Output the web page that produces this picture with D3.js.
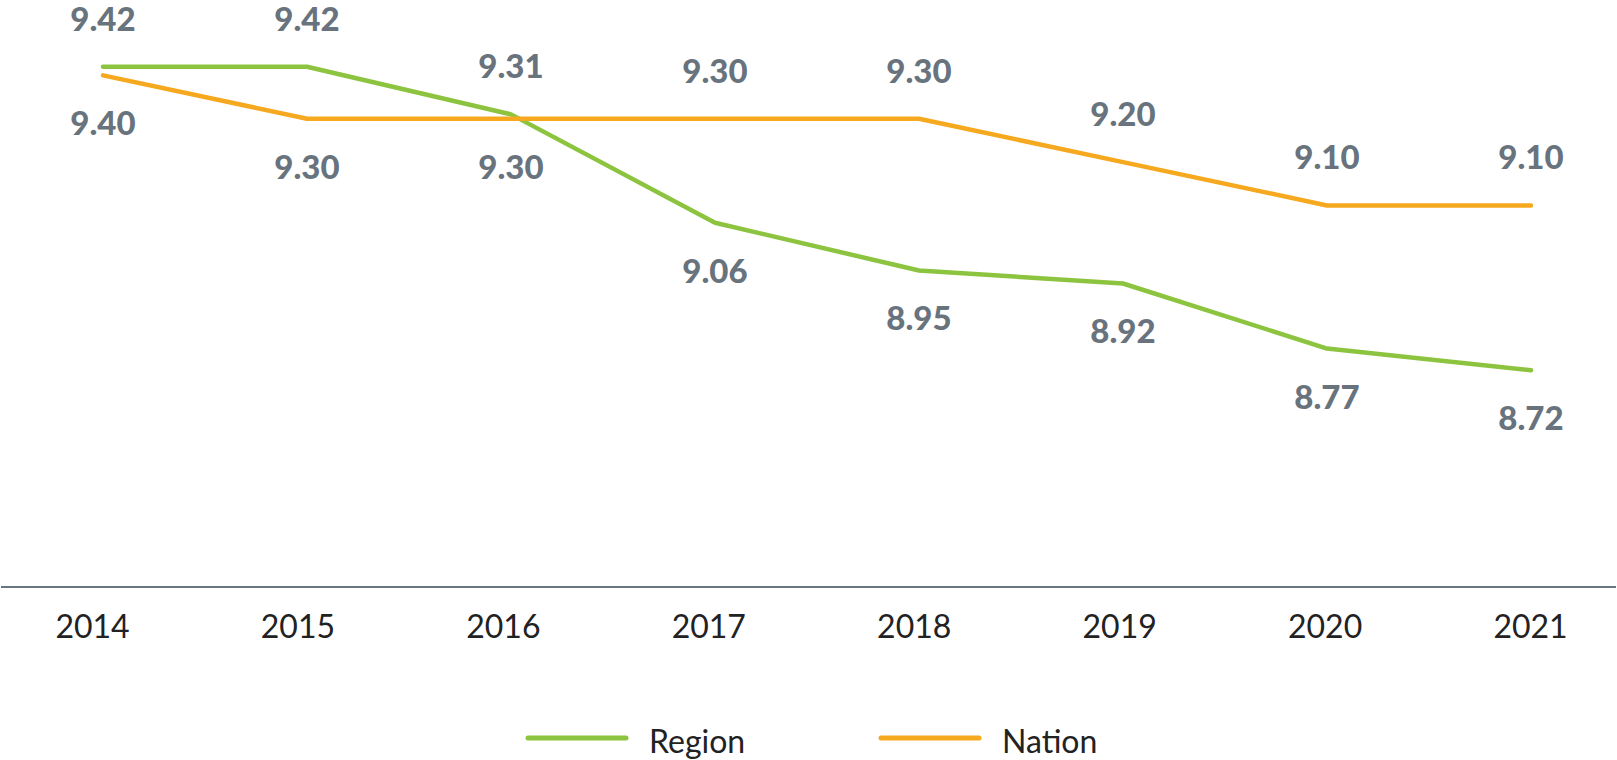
<!DOCTYPE html>
<html>
<head>
<meta charset="utf-8">
<script src="https://cdn.jsdelivr.net/npm/d3@7"></script>
<style>
  body { margin: 0; background: #fff; }
  svg { display: block; }
</style>
</head>
<body>
<svg id="chart" width="1617" height="760"></svg>
<script>
'use strict';

let years = ["2014", "2015", "2016", "2017", "2018", "2019", "2020", "2021"];
let regionValues = [9.42, 9.42, 9.31, 9.06, 8.95, 8.92, 8.77, 8.72];
let nationValues = [9.40, 9.30, 9.30, 9.30, 9.30, 9.20, 9.10, 9.10];
let seriesNames = ["Region", "Nation"];

function drawLineChart(svgName) {
	let svg = d3.select(svgName),
	width = +svg.attr("width");

	let colors = {"Region": "#8cc43f", "Nation": "#f6a81f"};
	let labelColor = "#68737d";

	let x = d3.scalePoint()
		.domain(years)
		.range([103, 1531]);

	// the year labels sit a little off the points in the original
	let xTick = d3.scalePoint()
		.domain(years)
		.range([92, 1530]);

	let y = d3.scaleLinear()
		.domain([8.22, 9.5])
		.range([587, 32]);

	let series = [
		{"name": "Region", "values": regionValues, "other": nationValues},
		{"name": "Nation", "values": nationValues, "other": regionValues}
	];

	// baseline
	svg.append("line")
	.attr("x1", 1)
	.attr("x2", width - 1)
	.attr("y1", y(8.22))
	.attr("y2", y(8.22))
	.attr("stroke", "#6b7580")
	.attr("stroke-width", 2.2);

	let axis = svg.append("g")
	.attr("transform", "translate(0," + y(8.22) + ")")
	.call(d3.axisBottom(xTick).tickSize(0).tickPadding(28));
	axis.select(".domain").remove();
	axis.selectAll("text")
	.attr("fill", "#222")
	.style("font-family", "Lato, 'Noto Sans', sans-serif")
	.style("font-size", "32px");

	let line = d3.line()
		.x(function (d, i) { return x(years[i]); })
		.y(function (d) { return y(d); });

	series.forEach(function (s) {
		svg.append("path")
		.datum(s.values)
		.attr("fill", "none")
		.attr("stroke", colors[s.name])
		.attr("stroke-width", 4.5)
		.attr("stroke-linecap", "round")
		.attr("stroke-linejoin", "round")
		.attr("d", line);
	});

	// value labels: the higher series gets its label above, the other below
	series.forEach(function (s) {
		svg.selectAll(".lbl-" + s.name)
		.data(s.values)
		.enter().append("text")
		.attr("class", "lbl-" + s.name)
		.attr("x", function (d, i) { return x(years[i]); })
		.attr("y", function (d, i) {
			let above = s.name == "Region" ? d >= s.other[i] : d > s.other[i];
			return above ? y(d) - 36 : y(d) + 60;
		})
		.attr("text-anchor", "middle")
		.attr("fill", labelColor)
		.style("font-family", "Lato, 'Noto Sans', sans-serif")
		.style("font-weight", "900")
		.style("font-size", "33px")
		.text(function (d) { return d.toFixed(2); });
	});

	// legend
	let legend = svg.append("g").attr("transform", "translate(528,738)");
	let item = legend.selectAll("g")
		.data(seriesNames)
		.enter().append("g")
		.attr("transform", function (d, i) { return "translate(" + (i * 353) + ",0)"; });
	item.append("line")
	.attr("x1", 0)
	.attr("x2", 98)
	.attr("stroke", function (d) { return colors[d]; })
	.attr("stroke-width", 5)
	.attr("stroke-linecap", "round");
	item.append("text")
	.attr("x", 121)
	.attr("y", 15)
	.attr("fill", "#222")
	.style("font-family", "Lato, 'Noto Sans', sans-serif")
	.style("font-size", "32px")
	.text(function (d) { return d; });
}

drawLineChart("#chart");
</script>
</body>
</html>
